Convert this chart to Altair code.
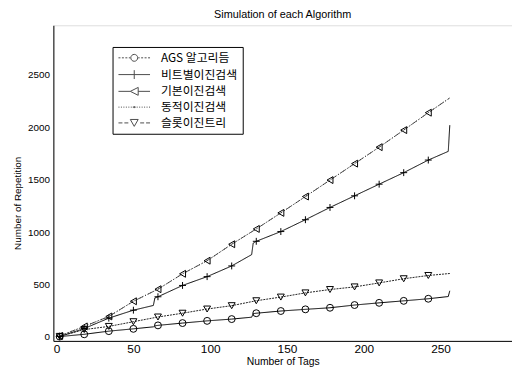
import altair as alt
import pandas as pd

series_names = ["AGS 알고리듬", "비트별이진검색", "기본이진검색", "동적이진검색", "슬롯이진트리"]

marker_x = [2, 18, 34, 50, 66, 82, 98, 114, 130, 146, 162, 178, 194, 210, 226, 242]

ags_x = [2, 18, 34, 50, 63, 64, 66, 82, 98, 114, 127, 128, 130, 146, 162, 178, 194, 210, 226, 242, 255, 256]
ags_y = [3, 25, 55, 77, 96, 106, 110, 132, 153, 170, 188, 222, 226, 247, 263, 278, 304, 325, 344, 364, 385, 440]

bit_x = [2, 18, 34, 50, 63, 64, 66, 82, 98, 114, 127, 128, 130, 146, 162, 178, 194, 210, 226, 242, 255, 256]
bit_y = [4, 80, 179, 255, 300, 372, 383, 491, 575, 677, 785, 895, 912, 1005, 1118, 1235, 1346, 1457, 1567, 1687, 1770, 2020]

basic_x = [2, 18, 34, 50, 66, 82, 98, 114, 130, 146, 162, 178, 194, 210, 226, 242, 256]
basic_y = [10, 100, 195, 340, 455, 602, 727, 884, 1030, 1183, 1339, 1496, 1653, 1810, 1973, 2139, 2280]

dyn_x = [2, 18, 34, 50, 66, 82, 98, 114, 130, 146, 162, 178, 194, 210, 226, 242, 256]
dyn_y = [10, 100, 195, 340, 455, 602, 727, 884, 1030, 1183, 1339, 1496, 1653, 1810, 1973, 2139, 2280]

slot_x = [2, 18, 34, 50, 66, 82, 98, 114, 130, 146, 162, 178, 194, 210, 226, 242, 256]
slot_y = [5, 70, 100, 145, 190, 226, 266, 298, 345, 380, 420, 452, 477, 515, 555, 586, 605]

x_ticks = [0, 50, 100, 150, 200, 250]
y_ticks = [0, 500, 1000, 1500, 2000, 2500]

series_data = [
    (series_names[0], ags_x, ags_y, True),
    (series_names[1], bit_x, bit_y, True),
    (series_names[2], basic_x, basic_y, True),
    (series_names[3], dyn_x, dyn_y, False),
    (series_names[4], slot_x, slot_y, True),
]
rows = []
for name, xs, ys, has_marker in series_data:
    for xv, yv in zip(xs, ys):
        rows.append({"series": name, "x": xv, "y": yv,
                     "marker": bool(has_marker and xv in marker_x)})
df = pd.DataFrame(rows)

FONT = "Liberation Sans"
KFONT = "Noto Sans CJK KR"

xscale = alt.Scale(domain=[-2.1, 296.5], nice=False, zero=False)
yscale = alt.Scale(domain=[-38, 2973], nice=False, zero=False)

xenc = alt.X("x:Q", scale=xscale, axis=alt.Axis(
    values=x_ticks, title="Number of Tags", grid=False, tickSize=0, format="d",
    labelPadding=3, labelFontSize=12, labelFont=FONT, labelColor="black",
    titleFont=FONT, titleFontSize=10.5, titleFontWeight="normal", titleColor="black",
    titlePadding=2, domainColor="black", labelFlush=False))
yenc = alt.Y("y:Q", scale=yscale, axis=alt.Axis(
    values=y_ticks, title="Number of Repetition", grid=False, tickSize=0, format="d",
    labelPadding=4, labelFontSize=10, labelFont=FONT, labelColor="black",
    titleFont=FONT, titleFontSize=10, titleFontWeight="normal", titleColor="black",
    titlePadding=5, domainColor="black", titleY=180, labelFlush=False))

dash_range = [[1, 0], [1, 0], [6, 2, 1, 2], [1, 2], [2, 1]]
color_range = ["#000000", "#000000", "#555555", "#333333", "#222222"]

lines = alt.Chart(df).mark_line(strokeWidth=1, clip=True).encode(
    x=xenc, y=yenc,
    detail="series:N",
    color=alt.Color("series:N", scale=alt.Scale(domain=series_names, range=color_range), legend=None),
    strokeDash=alt.StrokeDash("series:N", scale=alt.Scale(domain=series_names, range=dash_range), legend=None),
)

pt_names = [series_names[0], series_names[1], series_names[2], series_names[4]]
pt_shapes = ["circle", "M-1,0L1,0M0,-1L0,1", "triangle-left", "triangle-down"]
points = alt.Chart(df).transform_filter("datum.marker").mark_point(
    filled=False, color="black", size=49, strokeWidth=1, opacity=1).encode(
    x=xenc, y=yenc,
    shape=alt.Shape("series:N", scale=alt.Scale(domain=pt_names, range=pt_shapes), legend=None),
)

legend_paths = [
    "M-3.2,0L-2.8,0M-2.5,0L-2.1,0M-1.8,0L-1.4,0M-1.1,0L-0.8,0M0.8,0L1.1,0M1.4,0L1.8,0M2.1,0L2.5,0M2.8,0L3.2,0"
    "M0.7,0A0.7,0.7 0 1,1 -0.7,0A0.7,0.7 0 1,1 0.7,0",
    "M-3.2,0L3.2,0M0,-0.9L0,0.9",
    "M-3.2,0L-0.8,0M0.8,0L3.2,0M-0.8,0L0.8,-0.8L0.8,0.8Z",
    "M-3.2,0L-3.0,0M-2.7,0L-2.5,0M-2.2,0L-2.0,0M-1.7,0L-1.5,0M-1.2,0L-1.0,0M-0.7,0L-0.5,0M-0.3,0L0.3,0"
    "M0.5,0L0.7,0M1.0,0L1.2,0M1.5,0L1.7,0M2.0,0L2.2,0M2.5,0L2.7,0M3.0,0L3.2,0M0,-0.2L0,0.2",
    "M-3.2,0L-2.4,0M-2.0,0L-1.2,0M1.2,0L2.0,0M2.4,0L3.2,0M-0.8,-0.7L0.8,-0.7L0,0.7Z",
]
legend_layer = alt.Chart(df).transform_filter("datum.x < -1000").mark_point(
    filled=False, color="black", size=100, strokeWidth=1).encode(
    x=xenc, y=yenc,
    shape=alt.Shape("series:N", scale=alt.Scale(domain=series_names, range=legend_paths),
                    legend=alt.Legend(
                        title=None, orient="none", legendX=60, legendY=22,
                        strokeColor="black", fillColor="white", padding=5,
                        labelFont=KFONT, labelFontSize=12, labelColor="black",
                        symbolSize=100, symbolOffset=11, labelOffset=21,
                        labelExpr="datum.label + '\u00a0\u00a0'",
                        rowPadding=4, symbolStrokeWidth=1, symbolStrokeColor="black",
                        symbolFillColor="transparent", labelLimit=200)),
)

chart = alt.layer(lines, points, legend_layer).resolve_scale(shape="independent").properties(
    width=465, height=320,
    autosize=alt.AutoSizeParams(type="none"),
    padding={"left": 46, "top": 15, "right": 0, "bottom": 27},
    title=alt.TitleParams("Simulation of each Algorithm", font=FONT, fontSize=11,
                          fontWeight="normal", color="black", anchor="middle", offset=5),
).configure_view(stroke=None).configure(background="white")

chart.save("out.html", embed_options={"renderer": "svg", "actions": False})
